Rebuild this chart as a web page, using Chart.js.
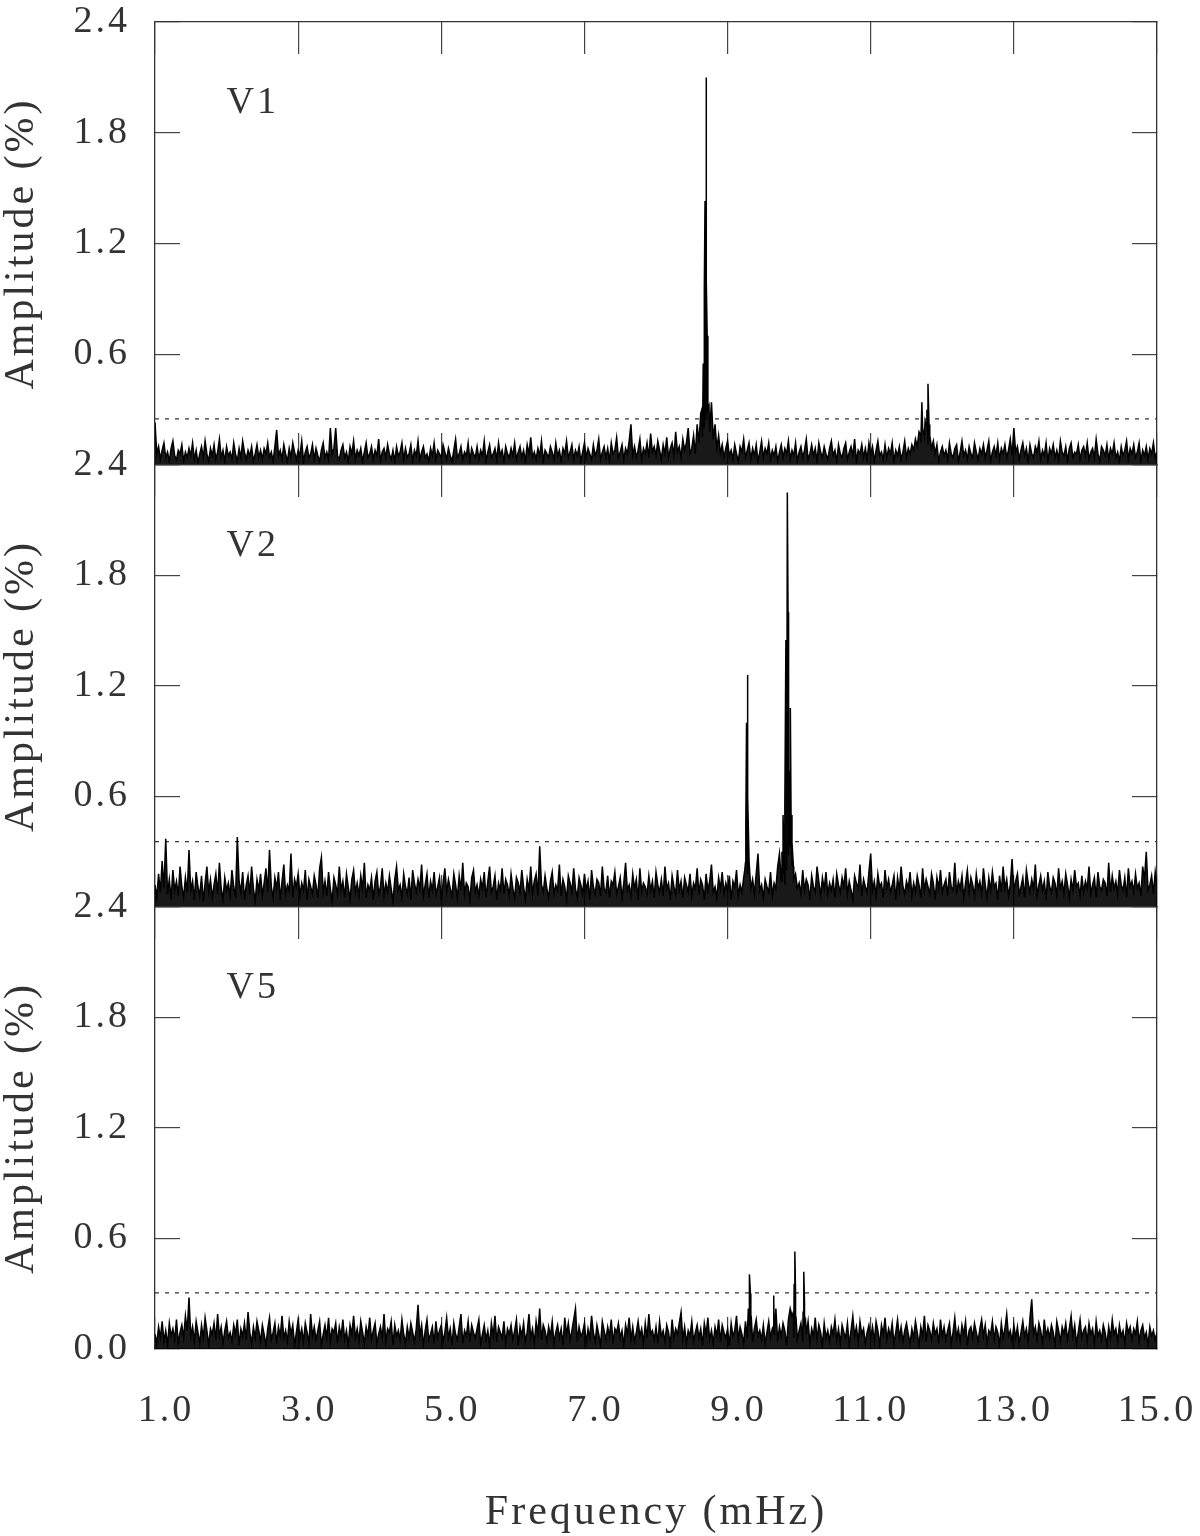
<!DOCTYPE html>
<html>
<head>
<meta charset="utf-8">
<title>Amplitude spectra V1, V2, V5</title>
<script src="https://cdn.jsdelivr.net/npm/chart.js@4.4.1/dist/chart.umd.min.js"></script>
<style>
    body { margin: 0; background: #fff; }
    .page { position: relative; width: 1200px; height: 1536px; }
    .page canvas { position: absolute; left: 0; top: 0; }
</style>
</head>
<body>
<div class="page">
    <canvas id="panelV1" width="1200" height="1536"></canvas>
    <canvas id="panelV2" width="1200" height="1536"></canvas>
    <canvas id="panelV5" width="1200" height="1536"></canvas>
</div>
<script>
// ---- data ----
const freqMin = 1.0;
const freqMax = 15.0;
const freqTicks = [1, 3, 5, 7, 9, 11, 13, 15];
const freqTickLabels = ['\u20071.0', '\u20073.0', '\u20075.0', '\u20077.0', '\u20079.0', '11.0', '13.0', '15.0'];
const ampTicks = [0, 0.6, 1.2, 1.8, 2.4];
const ampTickLabels = ['0.0', '0.6', '1.2', '1.8', '2.4'];

const starNames = ['V1', 'V2', 'V5'];
const thresholds = [0.25, 0.355, 0.305];   // dotted significance level (%)

// noise floor, amplitude in 0.01 %, evenly spaced from 1.0 to 15.0 mHz
const noiseV1 = [
    23,6,10,3,8,12,4,7,2,9,13,5,3,8,6,11,2,7,4,9,
    5,12,3,8,1,6,10,4,13,6,2,9,5,11,3,7,14,4,8,2,
    10,5,7,3,12,6,2,9,4,13,7,3,8,5,10,2,6,11,4,8,
    3,9,6,12,4,7,2,10,19,5,8,3,11,6,2,9,4,12,7,3,
    8,5,13,2,7,10,4,6,11,3,9,5,2,8,12,4,7,3,20,6,
    9,20,5,3,8,11,4,7,2,10,6,13,3,8,5,9,2,7,12,4,
    6,10,3,8,5,14,2,7,9,4,11,6,3,8,2,10,5,7,12,3,
    9,4,6,11,2,8,5,13,3,7,10,4,6,2,9,5,12,3,8,6,
    4,11,7,3,9,5,2,8,14,4,6,10,3,7,5,12,2,9,6,4,
    10,3,8,5,13,2,7,11,4,6,9,3,12,5,8,2,10,6,4,9,
    5,12,3,7,10,4,8,2,11,6,15,4,7,3,9,5,13,2,8,6,
    4,10,7,3,12,5,8,2,9,6,13,4,7,11,3,8,5,10,2,7,
    12,4,9,6,3,11,5,8,14,3,7,10,4,9,2,12,6,8,15,4,
    7,11,3,9,6,13,22,5,10,4,8,14,3,9,6,12,4,17,7,10,
    5,13,8,3,11,6,15,4,9,12,5,18,7,10,4,14,8,12,20,6,
    9,16,6,22,12,28,15,20,26,30,18,34,14,22,9,16,6,11,4,9,
    13,5,8,3,11,6,2,10,7,14,4,8,12,3,9,5,11,2,7,13,
    4,9,6,12,3,8,5,10,2,7,11,4,9,6,13,3,8,5,12,2,
    7,10,4,8,14,3,6,11,5,9,2,12,7,4,10,6,3,9,13,5,
    8,2,11,6,4,9,12,3,7,10,5,14,2,8,6,11,4,9,3,12,
    6,10,2,8,13,5,7,3,11,4,9,6,12,2,8,5,10,3,7,13,
    4,9,6,11,8,14,10,18,12,20,15,22,11,16,9,13,6,11,2,7,
    10,5,8,3,12,6,4,9,11,2,7,13,5,8,3,10,6,4,12,7,
    3,9,6,11,4,8,13,2,7,10,5,12,3,9,6,11,4,8,14,5,
    20,7,10,3,8,12,5,9,2,11,6,4,10,7,13,3,8,5,12,2,
    9,6,11,4,8,3,13,7,5,10,2,9,12,4,7,6,11,3,8,10,
    5,12,3,7,9,4,14,6,2,10,8,5,11,3,9,6,12,4,7,2,
    10,5,8,13,3,9,6,11,4,7,12,2,8,5,10,3,9,6,12,4,
    7
];
const noiseV2 = [
    12,5,18,8,25,10,37,7,15,4,20,9,14,6,22,11,5,16,8,31,
    9,14,4,19,11,6,17,3,13,22,8,15,5,12,18,7,24,10,4,16,
    9,13,6,20,11,5,38,14,8,19,4,12,17,7,22,10,3,15,9,18,
    6,13,21,8,31,11,5,16,10,19,4,14,23,7,12,9,29,5,15,11,
    18,6,13,9,20,4,15,11,7,17,12,5,21,27,8,14,6,19,10,3,
    16,12,7,22,9,14,5,18,11,4,15,20,8,13,6,17,10,24,5,12,
    9,16,4,14,19,7,11,21,6,13,8,17,10,3,15,22,9,12,5,18,
    11,7,16,4,20,13,8,15,10,23,6,12,18,5,14,9,19,7,11,16,
    4,13,21,8,15,10,6,18,12,5,17,9,24,7,13,11,4,16,20,8,
    12,6,15,10,19,5,14,22,8,11,17,4,13,9,21,7,15,12,6,18,
    10,5,16,13,8,20,11,4,15,9,22,7,14,18,6,33,12,8,17,10,
    5,14,19,7,12,9,23,6,15,11,4,17,13,8,21,10,5,16,12,7,
    18,9,14,4,20,11,7,15,13,6,22,10,8,17,5,14,12,19,7,11,
    16,5,13,24,9,12,6,18,10,15,4,21,8,13,11,7,17,9,14,5,
    19,12,8,15,6,22,10,13,4,17,11,7,20,9,14,5,16,12,8,18,
    6,13,10,21,7,15,12,4,18,9,14,23,8,11,5,16,10,19,7,13,
    9,17,4,14,11,20,6,12,8,16,24,18,26,10,15,7,18,29,9,12,
    5,15,11,8,19,6,13,10,22,29,14,18,12,20,28,33,22,15,18,10,
    13,7,20,9,15,12,4,17,11,8,22,14,6,16,10,19,7,13,9,15,
    5,18,12,8,16,11,21,7,14,9,4,17,13,10,23,6,15,11,8,19,
    29,9,14,6,18,11,13,5,20,10,15,8,12,17,4,16,9,22,11,7,
    14,10,19,6,13,8,17,12,5,21,9,15,11,7,18,13,4,16,10,20,
    8,12,15,6,19,11,9,24,7,14,10,17,5,13,20,8,16,12,6,18,
    10,14,7,21,12,5,16,9,19,11,13,4,17,8,22,10,15,6,12,26,
    9,14,18,7,11,16,5,20,13,8,15,10,23,6,12,17,9,14,4,19,
    11,8,16,13,6,21,10,14,7,18,12,5,15,9,20,11,13,6,17,8,
    14,10,22,7,12,16,5,19,11,9,15,13,6,24,8,17,10,14,7,20,
    12,9,16,5,21,11,14,8,18,10,13,6,22,15,30,9,12,17,7,19,
    11
];
const noiseV5 = [
    8,3,12,6,15,4,10,2,14,7,11,5,16,3,9,13,6,18,10,28,
    7,12,4,15,9,3,13,6,17,10,2,11,8,14,5,19,7,12,3,10,
    15,6,9,4,13,8,16,2,11,7,14,5,20,9,3,12,6,15,10,4,
    13,8,2,11,17,5,9,14,3,12,7,18,6,10,4,15,8,13,2,9,
    16,6,11,4,14,9,3,19,7,12,5,10,15,2,8,13,6,17,4,11,
    9,14,3,12,7,16,5,10,2,13,8,18,6,11,4,15,9,3,12,7,
    17,5,10,14,3,8,12,6,19,4,11,9,15,2,13,7,10,5,16,8,
    3,12,6,14,9,4,11,24,7,13,2,10,16,5,8,12,3,15,6,10,
    13,4,9,17,6,11,2,14,8,5,12,19,3,10,7,15,4,13,9,6,
    11,16,3,8,13,5,10,2,14,7,18,4,12,9,6,15,3,11,8,13,
    5,10,16,2,12,7,14,4,9,19,6,11,3,15,8,22,5,13,10,4,
    12,7,15,3,9,13,6,11,2,17,8,14,5,10,16,22,4,12,7,9,
    14,3,11,6,18,9,4,13,8,2,15,10,5,12,7,16,3,11,9,14,
    6,10,2,13,8,17,5,12,4,9,15,7,11,3,14,6,19,8,10,5,
    12,3,15,7,10,4,13,9,2,16,6,11,8,14,20,5,12,3,10,7,
    15,4,9,13,6,11,2,14,8,17,5,10,3,12,7,16,4,13,9,6,
    11,2,14,7,10,18,5,12,8,3,15,6,13,9,4,11,16,7,10,5,
    13,3,9,15,6,11,8,22,4,12,7,14,10,2,16,22,18,6,13,5,
    10,14,4,12,8,15,3,11,7,17,5,13,9,2,14,6,10,4,12,8,
    16,5,11,3,13,9,6,14,2,10,18,7,12,4,15,8,11,3,9,13,
    6,12,4,15,10,2,13,8,17,5,11,7,14,3,9,16,6,12,4,10,
    14,8,3,11,6,15,9,2,12,7,18,4,13,10,5,14,8,11,3,16,
    7,12,5,10,14,3,9,17,6,11,4,13,8,15,2,10,12,6,14,9,
    4,11,16,7,13,3,10,8,15,5,12,9,2,14,6,11,19,7,10,4,
    13,6,12,3,9,15,7,11,4,17,27,8,12,5,14,10,3,16,7,11,
    6,13,9,2,15,10,4,12,8,14,5,11,18,7,13,3,9,16,6,10,
    12,4,14,8,11,3,15,7,10,5,13,9,2,12,6,16,8,11,4,13,
    7,10,3,14,9,12,5,11,8,15,4,10,13,6,9,2,12,7,10,5,
    9
];

// pulsation peaks: frequency (mHz) and amplitude (%)
const peakFreqV1 = [8.64, 8.66, 8.675, 8.685, 8.695, 8.70, 8.705, 8.715, 8.725, 8.74, 8.76,
                    11.70, 11.715, 11.725, 11.76, 11.785, 11.80, 11.815];
const peakAmpV1  = [0.30, 0.55, 0.95, 1.43, 0.80, 2.10, 1.00, 0.70, 0.45, 0.32, 0.25,
                    0.16, 0.34, 0.20, 0.24, 0.30, 0.44, 0.22];
const peakFreqV2 = [9.24, 9.255, 9.265, 9.276, 9.285, 9.30,
                    9.76, 9.775, 9.80, 9.815, 9.825, 9.835, 9.845, 9.855, 9.865, 9.877, 9.887, 9.90, 9.92];
const peakAmpV2  = [0.20, 0.45, 1.00, 1.26, 0.60, 0.25,
                    0.30, 0.50, 0.55, 1.45, 0.90, 2.25, 1.60, 0.70, 0.74, 1.08, 0.50, 0.35, 0.22];
const peakFreqV5 = [9.29, 9.30, 9.31, 9.32, 9.33, 9.635, 9.645, 9.655,
                    9.92, 9.93, 9.94, 9.95, 9.96, 10.055, 10.065, 10.075, 10.09];
const peakAmpV5  = [0.22, 0.36, 0.405, 0.30, 0.18, 0.12, 0.29, 0.10,
                    0.20, 0.35, 0.53, 0.30, 0.15, 0.20, 0.42, 0.25, 0.15];

const labelFreq = 2.0;
const labelAmp = 1.96;

// ---- page layout ----
const PLOT_LEFT = 155;
const PLOT_RIGHT = 1157;
const PAGE_W = 1200;
const PAGE_H = 1536;
const panelTop = [22, 465, 907];
const panelBottom = [465, 907, 1349];

const FONT = "'Liberation Serif', 'Times New Roman', serif";
const INK = '#333';

function buildSeries(noise, peakF, peakA) {
    const step = (freqMax - freqMin) / (noise.length - 1);
    const pts = noise.map((v, i) => ({ x: freqMin + i * step, y: v / 100 }));
    peakF.forEach((f, i) => pts.push({ x: f, y: peakA[i] }));
    pts.sort((a, b) => a.x - b.x);
    return pts;
}

const letterSpacing = {
    id: 'letterSpacing',
    beforeDraw(chart) { chart.ctx.letterSpacing = '3px'; }
};

const starLabel = {
    id: 'starLabel',
    afterDatasetsDraw(chart, args, opts) {
        const ctx = chart.ctx;
        ctx.save();
        ctx.font = `38px ${FONT}`;
        ctx.fillStyle = INK;
        ctx.textAlign = 'left';
        ctx.textBaseline = 'middle';
        ctx.fillText(opts.text, chart.scales.x.getPixelForValue(labelFreq), chart.scales.y.getPixelForValue(labelAmp));
        ctx.restore();
    }
};

function tickGrid(len) {
    return { drawOnChartArea: false, drawTicks: true, tickLength: len, color: '#444', lineWidth: 1.2 };
}

function makePanel(canvasId, k, series) {
    const last = k === 2;
    const freqAxis = (position, showLabels) => ({
        type: 'linear', position, min: freqMin, max: freqMax,
        afterBuildTicks: s => { s.ticks = freqTicks.map(v => ({ value: v })); },
        afterFit: s => {
            s.height = (position === 'bottom' && last) ? PAGE_H - panelBottom[k] : 0;
            s.paddingLeft = 0;
            s.paddingRight = 0;
        },
        grid: tickGrid(-32),
        border: { display: true, color: INK, width: 1.3 },
        ticks: {
            display: showLabels, padding: 75, color: INK, maxRotation: 0, autoSkip: false,
            font: { family: FONT, size: 38, lineHeight: 1 },
            callback: (v, i) => freqTickLabels[i]
        },
        title: {
            display: showLabels, text: 'Frequency (mHz)', color: INK,
            font: { family: FONT, size: 42, lineHeight: 1 }, padding: { top: 0, bottom: 2 }
        }
    });
    const ampAxis = (position, showLabels) => ({
        type: 'linear', position, min: 0, max: 2.4,
        afterBuildTicks: s => { s.ticks = ampTicks.map(v => ({ value: v })); },
        afterFit: s => {
            s.width = position === 'left' ? PLOT_LEFT : 0;
            s.paddingTop = 0;
            s.paddingBottom = 0;
        },
        grid: tickGrid(-25),
        border: { display: true, color: INK, width: 1.3 },
        ticks: {
            display: showLabels, padding: 50, color: INK,
            font: { family: FONT, size: 38, lineHeight: 1 },
            callback: (v, i) => (i === 0 && !last) ? '' : ampTickLabels[i]
        },
        title: {
            display: showLabels, text: 'Amplitude (%)', color: INK,
            font: { family: FONT, size: 42, lineHeight: 1 }, padding: { top: 1, bottom: 0 }
        }
    });

    return new Chart(document.getElementById(canvasId), {
        type: 'line',
        data: {
            datasets: [
                {
                    data: series,
                    borderColor: '#000', borderWidth: 1.5,
                    backgroundColor: 'rgba(0,0,0,0.9)', fill: 'origin',
                    pointRadius: 0, tension: 0
                },
                {
                    data: [{ x: freqMin, y: thresholds[k] }, { x: freqMax, y: thresholds[k] }],
                    borderColor: INK, borderWidth: 1.2, borderDash: [4, 6],
                    pointRadius: 0, fill: false
                }
            ]
        },
        options: {
            responsive: false,
            animation: false,
            events: [],
            layout: {
                padding: {
                    left: 0,
                    right: PAGE_W - PLOT_RIGHT,
                    top: panelTop[k],
                    bottom: last ? 0 : PAGE_H - panelBottom[k]
                }
            },
            scales: {
                x: freqAxis('bottom', last),
                x2: freqAxis('top', false),
                y: ampAxis('left', true),
                y2: ampAxis('right', false)
            },
            plugins: {
                legend: { display: false },
                tooltip: { enabled: false },
                starLabel: { text: starNames[k] }
            }
        },
        plugins: [letterSpacing, starLabel]
    });
}

makePanel('panelV1', 0, buildSeries(noiseV1, peakFreqV1, peakAmpV1));
makePanel('panelV2', 1, buildSeries(noiseV2, peakFreqV2, peakAmpV2));
makePanel('panelV5', 2, buildSeries(noiseV5, peakFreqV5, peakAmpV5));
</script>
</body>
</html>
